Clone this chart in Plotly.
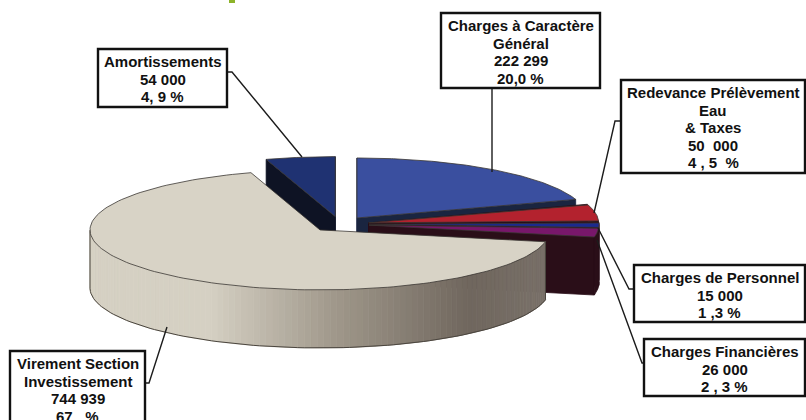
"""Exploded 3D-look pie of the operating budget, drawn as filled scatter polygons."""
import numpy as np
import plotly.graph_objects as go

# Data, clockwise from 12 o'clock
names = [['Charges à Caractère', 'Général'], ['Redevance Prélèvement', 'Eau', '& Taxes'],
         ['Charges de Personnel'], ['Charges Financières'],
         ['Virement Section', 'Investissement'], ['Amortissements']]
values = [222299, 50000, 15000, 26000, 744939, 54000]
value_labels = ['222 299', '50  000', '15 000', '26 000', '744 939', '54 000']
pct_labels = ['20,0 %', '4 , 5  %', '1 ,3 %', '2 , 3 %', '67   %', '4, 9 %']

top_colors = ['#3a4f9f', '#b3222e', '#1b2a8e', '#78176a', '#d8d3c6', '#1f3272']
wall_colors = ['#1a2540', '#2a0e18', '#2a0e18', '#2a0e18', '#8f877a', '#0e1324']
# box: x0, y0, x1, y1 / leader points
boxes = [(441, 13, 600, 88), (621, 80, 805, 173), (634, 265, 805, 322),
         (644, 339, 805, 396), (10, 351, 145, 430), (98, 49, 227, 107)]
leaders = [[(492, 88), (492, 172)],
           [(621, 121), (615, 121), (594, 213)],
           [(634, 289), (629, 289), (598, 228)],
           [(644, 363), (642, 363), (597, 240)],
           [(145, 383), (149, 383), (167, 327)],
           [(227, 72), (232, 72), (302, 157)]]

# Pie geometry in page pixels
cx, cy = 339.7, 224.2
rx, ry = 230, 60
depth = 58
explode = 0.128
line_gap = 17.6

fig = go.Figure()


def poly(xs, ys, color, line_color=None, width=0.8):
    fig.add_trace(go.Scatter(x=xs, y=ys, mode='lines', fill='toself', fillcolor=color,
                             line=dict(color=line_color or color, width=width),
                             hoverinfo='skip', showlegend=False))


def wall_shade(x):
    # the long front wall gets darker towards the right
    return '#%02x%02x%02x' % tuple(int(np.interp(x, [90, 210, 340, 470, 547], s))
                                   for s in ([214, 213, 158, 112, 122],
                                             [209, 208, 150, 103, 114],
                                             [196, 195, 137, 94, 106]))


# Slice angles, clockwise from the top
total = sum(values)
sweeps = [v / total * 360 for v in values]
starts = 90 - np.cumsum([0] + sweeps[:-1])

# Back to front: last slice is at the back, Virement closes the front
for i in [5, 0, 1, 2, 3, 4]:
    a0, a1 = np.deg2rad(starts[i]), np.deg2rad(starts[i] - sweeps[i])
    top, wall = top_colors[i], wall_colors[i]
    mid = (a0 + a1) / 2
    ox = cx + explode * rx * np.cos(mid)
    oy = cy - explode * ry * np.sin(mid)
    t = np.linspace(a0, a1, 150)
    ax = ox + rx * np.cos(t)
    ay = oy - ry * np.sin(t)

    # radial walls first, then the round front wall, then the top
    if values[i] != max(values):
        for edge in (a0, a1):
            ex, ey = ox + rx * np.cos(edge), oy - ry * np.sin(edge)
            poly([ox, ex, ex, ox, ox], [oy, ey, ey + depth, oy + depth, oy], wall)
    front = np.sin(t) < 0
    if front.any():
        fx, fy = ax[front], ay[front]
        if values[i] == max(values):
            for k in range(len(fx) - 1):
                shade = wall_shade((fx[k] + fx[k + 1]) / 2)
                poly([fx[k], fx[k + 1], fx[k + 1], fx[k], fx[k]],
                     [fy[k], fy[k + 1], fy[k + 1] + depth, fy[k] + depth, fy[k]], shade)
            fig.add_trace(go.Scatter(x=[fx[0]] + list(fx) + [fx[-1]],
                                     y=[fy[0]] + list(fy + depth) + [fy[-1]],
                                     mode='lines', line=dict(color='#4a453e', width=1),
                                     hoverinfo='skip', showlegend=False))
        else:
            poly(list(fx) + list(fx[::-1]), list(fy) + list(fy[::-1] + depth), wall)
    poly([ox] + list(ax) + [ox], [oy] + list(ay) + [oy], top, '#3a3632', 0.8)

for pts in leaders:
    fig.add_trace(go.Scatter(x=[p[0] for p in pts], y=[p[1] for p in pts], mode='lines',
                             line=dict(color='#1c1c1c', width=1.4),
                             hoverinfo='skip', showlegend=False))

shapes = [dict(type='rect', x0=229, y0=0, x1=235, y1=3, fillcolor='#8db32a', line_width=0)]
annotations = []
for name, vl, pl, (x0, y0, x1, y1) in zip(names, value_labels, pct_labels, boxes):
    shapes.append(dict(type='rect', x0=x0, y0=y0, x1=x1, y1=y1, fillcolor='white',
                       line=dict(color='#111111', width=2.4), layer='above'))
    for n, line in enumerate(name + [vl, pl]):
        annotations.append(dict(x=(x0 + x1) / 2, y=y0 + 12.5 + n * line_gap, yanchor='middle',
                                showarrow=False, text=f'<b>{line}</b>',
                                font=dict(family='Liberation Sans', size=15, color='#111111')))

fig.update_layout(width=806, height=420, margin=dict(l=0, r=0, t=0, b=0),
                  paper_bgcolor='white', plot_bgcolor='white', shapes=shapes,
                  annotations=annotations,
                  xaxis=dict(range=[0, 806], visible=False, fixedrange=True),
                  yaxis=dict(range=[420, 0], visible=False, fixedrange=True))

fig.write_html("out.html", config=dict(displayModeBar=False),
               post_script="document.body.style.margin='0';")
